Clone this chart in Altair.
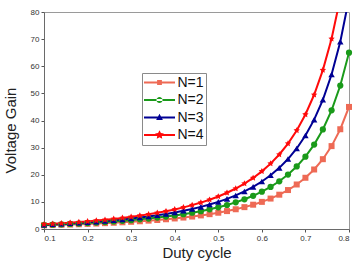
import altair as alt
import pandas as pd

# ---- data ----
duty = [0.10, 0.12, 0.14, 0.16, 0.18, 0.20, 0.22, 0.24, 0.26, 0.28,
        0.30, 0.32, 0.34, 0.36, 0.38, 0.40, 0.42, 0.44, 0.46, 0.48,
        0.50, 0.52, 0.54, 0.56, 0.58, 0.60, 0.62, 0.64, 0.66, 0.68,
        0.70, 0.72, 0.74, 0.76, 0.78, 0.80]

gain_n1 = [1.36, 1.45, 1.54, 1.64, 1.75, 1.88, 2.01, 2.15, 2.30, 2.47,
           2.65, 2.85, 3.08, 3.32, 3.59, 3.89, 4.22, 4.59, 5.01, 5.47,
           6.00, 6.60, 7.28, 8.06, 8.96, 10.00, 11.22, 12.65, 14.36, 16.41,
           18.89, 21.94, 25.74, 30.56, 36.78, 45.00]

gain_n2 = [1.48, 1.60, 1.73, 1.87, 2.02, 2.19, 2.37, 2.56, 2.78, 3.01,
           3.27, 3.55, 3.86, 4.20, 4.58, 5.00, 5.47, 6.00, 6.58, 7.25,
           8.00, 8.85, 9.83, 10.95, 12.24, 13.75, 15.51, 17.59, 20.07, 23.05,
           26.67, 31.12, 36.69, 43.75, 52.89, 65.00]

gain_n3 = [1.60, 1.76, 1.92, 2.10, 2.29, 2.50, 2.73, 2.98, 3.25, 3.55,
           3.88, 4.24, 4.64, 5.08, 5.57, 6.11, 6.72, 7.40, 8.16, 9.02,
           10.00, 11.11, 12.38, 13.84, 15.53, 17.50, 19.81, 22.53, 25.78, 29.69,
           34.44, 40.31, 47.63, 56.94, 69.01, 85.00]

gain_n4 = [1.73, 1.91, 2.11, 2.32, 2.56, 2.81, 3.09, 3.39, 3.73, 4.09,
           4.49, 4.93, 5.42, 5.96, 6.56, 7.22, 7.97, 8.80, 9.74, 10.80,
           12.00, 13.37, 14.93, 16.74, 18.82, 21.25, 24.10, 27.47, 31.49, 36.33,
           42.22, 49.49, 58.58, 70.14, 85.12, 105.00]

series_names = ["N=1", "N=2", "N=3", "N=4"]
x_ticks = [0.1, 0.2, 0.3, 0.4, 0.5, 0.6, 0.7, 0.8]
y_ticks = [0, 10, 20, 30, 40, 50, 60, 70, 80]

# ---- styling ----
colors = ["#EE6A55", "#1A9A1A", "#000094", "#FF0A0A"]
FONT = "Liberation Sans"


def poly_path(points, scale=1.0, dx=0.0):
    pts = [(x * scale + dx, y * scale) for x, y in points]
    s = "M%.3f,%.3f" % pts[0]
    for p in pts[1:]:
        s += "L%.3f,%.3f" % p
    return s + "Z"


star_pts = [(0, -1), (0.30, -0.41), (0.95, -0.31), (0.48, 0.16), (0.59, 0.81),
            (0, 0.50), (-0.59, 0.81), (-0.48, 0.16), (-0.95, -0.31), (-0.30, -0.41)]
STAR = poly_path(star_pts)

# legend symbols: a horizontal line with the marker in the middle (unit box -1..1)
line_seg = "M-0.97,-0.06L0.97,-0.06L0.97,0.06L-0.97,0.06Z"
leg_square = line_seg + poly_path([(-1, -1), (1, -1), (1, 1), (-1, 1)], 0.15)
leg_circle = line_seg + "M-0.19,0A0.19,0.19 0 1,0 0.19,0A0.19,0.19 0 1,0 -0.19,0Z"
leg_tri = line_seg + poly_path([(0, -1.1), (1, 0.75), (-1, 0.75)], 0.21)
leg_star = line_seg + poly_path(star_pts, 0.29)

rows = []
for name, vals in zip(series_names, [gain_n1, gain_n2, gain_n3, gain_n4]):
    for d, v in zip(duty, vals):
        rows.append({"duty": d, "gain": v, "series": name})
df = pd.DataFrame(rows)

x_enc = alt.X("duty:Q",
              scale=alt.Scale(domain=[0.1, 0.8], nice=False, zero=False),
              axis=alt.Axis(values=x_ticks, format=".1f", title="Duty cycle",
                            titlePadding=3))
y_enc = alt.Y("gain:Q",
              scale=alt.Scale(domain=[0, 80], nice=False),
              axis=alt.Axis(values=y_ticks, title="Voltage Gain",
                            titleX=-34, titleY=118, titleAngle=-90,
                            titleAlign="center", titleBaseline="middle"))
color_scale = alt.Scale(domain=series_names, range=colors)

lines = alt.Chart(df).mark_line(strokeWidth=2, clip=True).encode(
    x=x_enc, y=y_enc,
    color=alt.Color("series:N", scale=color_scale, legend=None),
    order=alt.Order("duty:Q"),
)

points = alt.Chart(df).transform_filter("datum.gain <= 80").mark_point(
    filled=True, opacity=1, strokeWidth=0
).encode(
    x=x_enc, y=y_enc,
    color=alt.Color("series:N", scale=color_scale, legend=None),
    shape=alt.Shape("series:N", scale=alt.Scale(
        domain=series_names, range=["square", "circle", "triangle-up", STAR]),
        legend=None),
    size=alt.Size("series:N", scale=alt.Scale(
        domain=series_names, range=[36, 44, 56, 130]), legend=None),
)

legend_layer = alt.Chart(df).transform_filter("false").mark_point(
    filled=True, opacity=1, size=1024, strokeWidth=0
).encode(
    x=x_enc, y=y_enc,
    color=alt.Color("series:N", scale=alt.Scale(domain=series_names, range=colors),
                    legend=alt.Legend(title=None)),
    shape=alt.Shape("series:N", scale=alt.Scale(
        domain=series_names, range=[leg_square, leg_circle, leg_tri, leg_star]),
        legend=alt.Legend(title=None)),
)

chart = alt.layer(lines, points, legend_layer).resolve_scale(
    color="independent", shape="independent", size="independent"
).resolve_legend(color="independent", shape="independent").properties(
    width=305, height=217,
    autosize=alt.AutoSizeParams(type="none"),
    padding={"left": 44, "top": 12, "right": 5, "bottom": 35},
    background="white",
).configure_view(
    stroke="#9a9a9a", strokeWidth=1
).configure_axis(
    grid=False,
    domainColor="#6a6a6a", domainWidth=1,
    tickColor="#555555", tickSize=3, tickWidth=1,
    labelFont=FONT, labelFontSize=8, labelColor="#333333", labelPadding=2,
    titleFont=FONT, titleFontSize=15, titleFontWeight="normal", titleColor="#222222",
).configure_legend(
    orient="none", legendX=98, legendY=61,
    symbolSize=1024, clipHeight=16, rowPadding=1.5,
    labelFont=FONT, labelFontSize=14, labelColor="#111111", labelOffset=2,
    padding=1.5, strokeColor="#8a8a8a", fillColor="white",
    symbolStrokeWidth=0, symbolOpacity=1,
)

chart.save("out.html", embed_options={"renderer": "svg", "actions": False})
